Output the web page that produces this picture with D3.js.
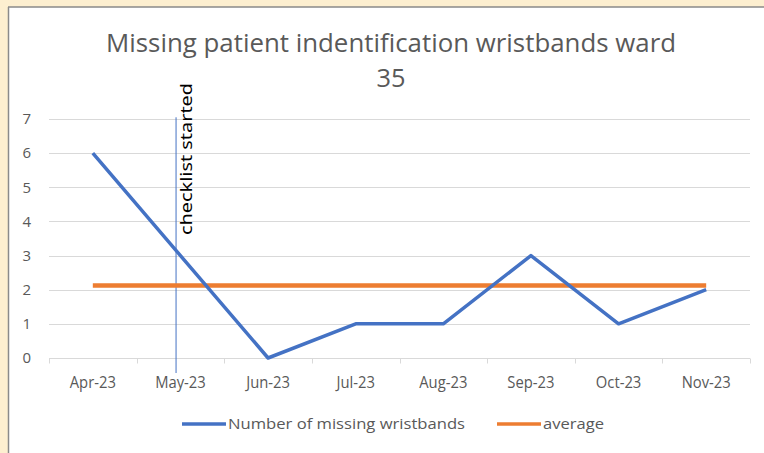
<!DOCTYPE html>
<html><head><meta charset="utf-8">
<script src="https://cdn.jsdelivr.net/npm/d3@7"></script>
<style>body{margin:0;background:#fdefd0;}svg{display:block;}</style>
</head><body>
<svg id="c" width="764" height="453"></svg>
<script>
const months = ["Apr-23","May-23","Jun-23","Jul-23","Aug-23","Sep-23","Oct-23","Nov-23"];
const missing = [6,3,0,1,1,3,1,2];
const average = [2.125,2.125,2.125,2.125,2.125,2.125,2.125,2.125];
const yTicks = [0,1,2,3,4,5,6,7];
const titleLines = ["Missing patient indentification wristbands ward","35"];
const annotationIndex = 0.95;
const annotationLabel = "checklist started";
const seriesNames = ["Number of missing wristbands","average"];

const svg = d3.select("#c");
svg.append("rect").attr("x",8).attr("y",7).attr("width",756).attr("height",446).attr("fill","#fff");
svg.append("line").attr("x1",8).attr("x2",764).attr("y1",7).attr("y2",7).attr("stroke","#8a8a8a").attr("stroke-width",1.5);
svg.append("line").attr("x1",8.5).attr("x2",8.5).attr("y1",7).attr("y2",453).attr("stroke","#8a8a8a").attr("stroke-width",1.5);

const x = d3.scaleBand().domain(months).range([49,750]).padding(0);
const xi = d3.scaleLinear().domain([0,months.length-1]).range([x(months[0])+x.bandwidth()/2, x(months[months.length-1])+x.bandwidth()/2]);
const y = d3.scaleLinear().domain([0,7]).range([358,119]);

function squeeze(sel, f){ sel.each(function(){ const w=this.getComputedTextLength(); d3.select(this).attr("textLength",w*f).attr("lengthAdjust","spacingAndGlyphs"); }); }

// title
const titleW = [570,29];
svg.append("g").selectAll("text").data(titleLines).join("text")
  .attr("x",391).attr("y",(d,i)=>52+i*35).attr("text-anchor","middle")
  .attr("font-family","Open Sans").attr("font-size",25).attr("fill","#595959")
  .attr("textLength",(d,i)=>titleW[i]).attr("lengthAdjust","spacingAndGlyphs")
  .text(d=>d);

// gridlines
svg.append("g").selectAll("line").data(yTicks.filter(d=>d>0)).join("line")
  .attr("x1",49).attr("x2",750).attr("y1",d=>Math.round(y(d))+0.5).attr("y2",d=>Math.round(y(d))+0.5)
  .attr("stroke","#d9d9d9").attr("stroke-width",1);

// y axis labels
const yAxis = d3.axisLeft(y).tickValues(yTicks).tickFormat(d3.format("d")).tickSize(0).tickPadding(0);
const gy = svg.append("g").attr("transform","translate(31,0)").call(yAxis);
gy.select(".domain").remove();
gy.selectAll("text").attr("font-family","Open Sans").attr("font-size",15).attr("fill","#595959");

// x axis
const xAxis = d3.axisBottom(x).tickSize(0).tickPadding(17);
const gx = svg.append("g").attr("transform","translate(0,358.5)").call(xAxis);
gx.select(".domain").attr("stroke","#d9d9d9").attr("d","M49,0H750");
gx.selectAll("text").attr("font-family","Open Sans").attr("font-size",17).attr("fill","#595959").call(squeeze,0.87);
gx.selectAll(".bnd").data(d3.range(months.length+1)).join("line").attr("class","bnd")
  .attr("x1",i=>Math.round(49+i*x.bandwidth())+0.5).attr("x2",i=>Math.round(49+i*x.bandwidth())+0.5)
  .attr("y1",0).attr("y2",5).attr("stroke","#d9d9d9");

// annotation
const ax = xi(annotationIndex);
svg.append("line").attr("x1",ax).attr("x2",ax).attr("y1",y(7.05)).attr("y2",373)
  .attr("stroke","#4472c4").attr("stroke-width",1);
svg.append("text").attr("transform",`translate(${ax+16},235) rotate(-90)`)
  .attr("font-family","Noto Sans").attr("font-size",16).attr("fill","#000")
  .attr("textLength",152).attr("lengthAdjust","spacingAndGlyphs").text(annotationLabel);

// lines
const line = d3.line().x((d,i)=>xi(i)).y(d=>y(d));
svg.append("path").datum(average).attr("d",line).attr("fill","none").attr("stroke","#ed7d31").attr("stroke-width",4.5);
svg.append("path").datum(missing).attr("d",line).attr("fill","none").attr("stroke","#4472c4").attr("stroke-width",3.5).attr("stroke-linejoin","round");

// legend
const legend = [{name:seriesNames[0],color:"#4472c4",x:182,w:237},{name:seriesNames[1],color:"#ed7d31",x:497,w:61}];
const lg = svg.append("g").selectAll("g").data(legend).join("g").attr("transform",d=>`translate(${d.x},424)`);
lg.append("line").attr("x1",0).attr("x2",44).attr("y1",0).attr("y2",0).attr("stroke",d=>d.color).attr("stroke-width",3.5);
lg.append("text").attr("x",46).attr("y",5).attr("font-family","Open Sans").attr("font-size",15).attr("fill","#595959")
  .attr("textLength",d=>d.w).attr("lengthAdjust","spacingAndGlyphs").text(d=>d.name);
</script>
</body></html>
